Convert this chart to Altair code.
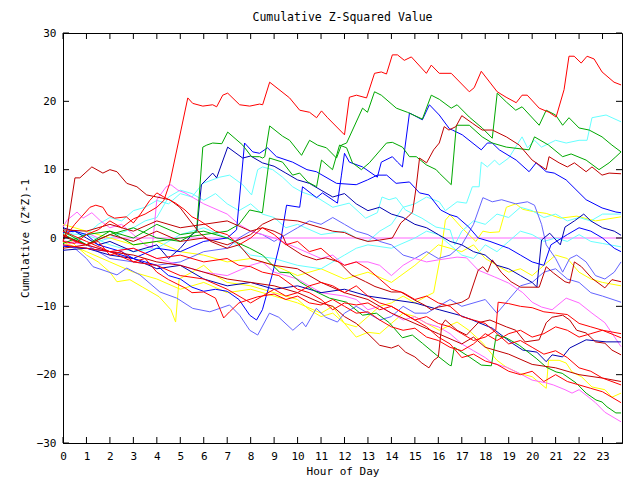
import altair as alt
import pandas as pd

FONT = "DejaVu Sans Mono"
X_MAX = 23.83

hour_ticks = list(range(24))
value_ticks = [-30, -20, -10, 0, 10, 20, 30]

palette = {
    "red": "#ff0000", "dred": "#c00000", "green": "#00a800", "blue": "#0000ff",
    "navy": "#0000b0", "lblue": "#6464ff", "cyan": "#66ffff", "yellow": "#ffff00",
    "magenta": "#ff66ff",
}

# (hour, value) readings for each sensor trace
r1 = [(0,-0.5),(0.5,-0.8),(1,0.5),(1.5,1.2),(2,2.5),(2.5,1.5),(3,2.8),(3.5,3.5),(4,4.5),(4.3,5.5),(4.55,8),
      (5.32,20.5),(5.53,19.7),(5.96,19.3),(6.38,19.5),(6.55,19.2),(6.81,20.9),(7.02,21.2),(7.53,19.5),
      (7.96,19.3),(8.38,19.6),(8.51,19.5),(8.81,22.8),(9.66,20.5),(10.09,18.7),(10.51,18.4),(10.81,17.6),
      (11.02,18.6),(11.28,17.6),(12,15.1),(12.21,20.6),(12.51,20.9),(12.94,20.5),(13.28,24.1),(13.57,24.3),
      (13.79,24),(14.04,26.8),(14.26,26.8),(14.55,26),(14.85,26.5),(15.49,24.1),(15.7,25.3),(16.04,24.1),
      (16.55,24.1),(17.32,21.4),(17.53,22),(17.83,24.4),(18.51,21.4),(18.89,20.6),(19.32,19.8),(19.57,20.9),
      (19.79,20.9),(20.3,19),(20.72,18.4),(21.02,17.7),(21.36,21.7),(21.57,26.6),(21.79,26.6),(22.09,25.6),
      (22.34,26.6),(22.64,26.2),(22.98,24.3),(23.49,22.8),(23.79,22.4)]
r2 = [(0,1),(1,-0.5),(2,-2),(3,-1.5),(4,-3),(5,-2.5),(6,-3.5),(7,-3),(7.5,-4),(8,-4.2),(8.5,-5),(9.2,-5.5),
      (10,-7.5),(10.5,-8),(11,-9),(11.5,-10.5),(12,-9.5),(12.5,-9.8),(13,-9.5),(13.5,-10.5),(14,-10),
      (14.5,-11),(15,-12),(15.5,-13),(16,-14.5),(16.5,-15.5),(17,-17.5),(17.5,-17),(18,-18),(18.5,-18.5),
      (19,-19.5),(19.5,-20),(20,-19.5),(20.5,-21),(21,-20),(21.5,-21),(22,-21.5),(22.5,-22),(23,-22.5),
      (23.79,-24.1)]
r3 = [(0,-1),(1,-1.5),(2,-2),(3,-3.5),(4,-4),(5,-5.5),(6,-6),(7,-7.5),(8,-9.5),(8.5,-8.5),(9,-7.5),
      (9.5,-8.5),(10,-8),(10.5,-7),(11,-6.5),(11.5,-7),(12,-8),(12.5,-7),(13,-8.5),(13.5,-9.5),(14,-10),
      (14.5,-11),(15,-12),(15.5,-11.5),(16,-12.5),(16.5,-13),(17,-14),(17.5,-15),(18,-14.5),(18.45,-13.5),
      (18.55,-9.4),(19,-9.6),(19.5,-10),(20,-10.2),(20.5,-10.8),(21,-11),(21.5,-11.2),(22,-12.5),
      (22.5,-13),(23,-13.5),(23.5,-14.2),(23.79,-14.6)]
r4 = [(0,0.5),(0.5,-0.5),(1,-1),(1.5,-0.5),(2,-2.5),(2.5,-2),(3,-3.5),(3.5,-3),(4,-5),(4.5,-6.1),(5.2,-7.3),
      (5.5,-8),(6,-7.9),(6.5,-8.8),(6.85,-11.7),(7.1,-10.8),(7.5,-9.5),(8.3,-8.6),(9,-8.2),(9.5,-9),
      (10,-8.5),(10.5,-9.5),(11,-9.8),(11.5,-9),(12,-10),(12.5,-11),(13,-10.8),(13.5,-12),(14,-13),
      (14.5,-13.5),(15,-13.2),(15.5,-14.5),(16,-15),(16.5,-16),(17,-16.5),(17.5,-15.5),(18,-14),
      (18.5,-15),(19,-14),(19.5,-13.5),(20,-14.5),(20.5,-14),(21,-13),(21.5,-13.5),(22,-14.5),
      (22.5,-14),(23,-13.5),(23.79,-14)]
r5 = [(0,-0.3),(0.5,2),(1.15,4.5),(1.4,4.8),(1.7,4.5),(1.9,3.4),(2.2,2.9),(2.7,3.1),(3,2.2),(3.3,3.5),
      (3.7,5.5),(4,6.6),(4.3,6),(4.8,5.1),(5.2,4.1),(5.5,3.1),(5.8,2.6),(6.5,1),(7,0.5),(7.5,-1),(8,0),
      (8.5,1.5),(9,0.5),(9.5,-1),(10,-0.5),(10.5,-2),(11,-1.5),(11.5,-3),(12,-4),(12.5,-3.5),(13,-4.5),
      (13.5,-6),(14,-7.5),(14.5,-8),(15,-9),(15.5,-8.5),(16,-9.5),(16.5,-10),(17,-11.5),(17.5,-12),
      (18,-12.5),(18.5,-14),(19,-15.5),(19.5,-15),(20,-16),(20.5,-17),(21,-16.5),(21.5,-17.5),(22,-19),
      (22.5,-19.5),(23,-20.5),(23.79,-21.5)]
dr1 = [(0,-0.5),(0.17,1.2),(0.51,8.8),(0.72,8.8),(0.94,9.5),(1.23,10.4),(1.7,9.5),(2,10),(2.3,9.7),
       (2.72,8),(3.15,7.5),(3.57,6.3),(4,6),(4.55,5.6),(4.98,4.5),(5.4,2.6),(5.83,0.7),(6.3,-0.5),
       (7,-1.5),(7.5,-1),(8,-3),(9,-4),(10,-4.5),(11,-6.5),(12,-8),(13,-9),(14,-11),(15,-12.5),(16,-14),
       (17,-15.5),(17.5,-14.5),(18,-16),(19,-17),(20,-18.5),(21,-19),(22,-20),(23,-20.5),(23.79,-21)]
dr2 = [(0,1.2),(1,1),(2,2),(3,1),(4,2.5),(5,1.5),(6,2),(7,2.5),(8,1),(8.5,1.5),(9,1),(9.36,0.4),(9.53,-1),
       (10.2,-2.5),(10.8,-3.2),(11.2,-2.9),(11.75,-3.5),(12.3,-5.4),(12.9,-6.4),(13.3,-7.1),(14,-7.9),
       (14.4,-7.9),(15,-9.1),(15.4,-9.8),(15.7,-10.5),(16,-10.1),(16.5,-9.8),(17,-9.4),(17.3,-8.8),
       (17.7,-4.7),(17.9,-4.2),(18.1,-5),(18.3,-3.2),(18.7,-5.1),(19.1,-6.4),(19.5,-7.2),(20.3,-7.2),
       (20.6,-4.2),(20.9,-5.1),(21.4,-6.4),(21.6,-6.6),(21.8,-3.5),(22.1,-4.2),(22.55,-5.9),(23.1,-7.3),
       (23.4,-6.1),(23.79,-6.4)]
dr3 = [(0,-1.5),(1,-1),(2,-2),(3,-2.5),(4,-3.5),(5,-4),(6,-5),(7,-6),(8,-6.5),(9,-7),(10,-8),(11,-9.5),
       (11.5,-10),(12,-11.5),(12.5,-12.5),(13,-14),(13.5,-15.7),(14,-16.1),(14.3,-15.7),(14.6,-16.7),
       (15,-17.4),(15.3,-18.3),(15.6,-19),(15.8,-17.9),(16,-17.4),(16.15,-12.7),(16.3,-12),(16.8,-13.5),
       (17.2,-14.2),(17.7,-12.4),(18.2,-12),(18.9,-13),(19.3,-13.5),(19.7,-15.2),(20.3,-14.9),
       (20.6,-12.4),(20.85,-11.6),(21.3,-11.3),(21.6,-12),(21.9,-13.5),(22.3,-13.9),(22.7,-15.2),
       (23.1,-15.4),(23.4,-16.4),(23.79,-17.1)]
dra = [(0,0.3),(1,-1),(2,0.5),(3,-0.5),(4,1),(5,-0.5),(6,0),(7,-1),(8,0.5),(8.5,2),(9,2.8),(10,2.5),
       (11,1.5),(11.5,1),(12,0.8),(12.5,0),(13,-0.5),(13.5,-0.3),(14.04,0),(14.4,2.2),(14.7,3.1),
       (14.9,3.8),(15.05,7.3),(15.2,11.7),(15.5,11),(15.8,12.9),(16.04,13.9),(16.25,16.3),(16.45,15.8),
       (16.75,16.3),(17,17.9),(17.45,16.8),(17.87,15.8),(18.3,15.8),(18.9,14.8),(19.45,13.6),(20,11.4),
       (20.6,10),(20.72,11.9),(21.15,11),(21.5,10.4),(21.8,11),(22.3,9.7),(22.55,10.4),(22.98,9.2),
       (23.28,9.5),(23.79,9.4)]
g1 = [(0,1),(1,-1),(2,0.5),(3,1.5),(4,0),(5,-0.5),(5.5,0.5),(5.7,1.2),(5.96,13.3),(6.13,13.6),
      (6.38,13.9),(6.77,13.8),(7.02,15.5),(7.66,13.6),(8.04,11.9),(8.38,11.9),(8.51,11.7),(8.6,11.9),
      (8.81,16.4),(9.36,14.9),(9.66,14.3),(10.17,12.1),(10.51,14.3),(10.85,13.6),(11.23,13.2),
      (11.66,11.7),(11.87,13.6),(12.09,13.9),(12.77,19),(12.98,18.4),(13.28,21.4),(13.57,20.9),
      (14.21,19),(14.68,18.4),(15.32,17.4),(15.7,20.9),(16.04,20.3),(16.55,19),(16.8,19.5),(17.32,17.7),
      (17.87,16.1),(18.3,14.6),(18.51,21.2),(18.9,19.9),(19.3,18.7),(19.57,19.2),(20.3,16.5),(20.6,18.7),
      (21,18),(21.3,16.5),(21.57,17.6),(22,16.1),(22.43,15.8),(22.98,14.8),(23.4,13.6),(23.79,12.6)]
g2 = [(0,-0.8),(1,0.5),(2,1),(3,-1),(4,-0.5),(5,0),(6,0.5),(7,1),(7.5,2),(7.96,4.1),(8.5,3.7),(8.8,11.7),
      (9.36,11.1),(9.79,9.2),(10.09,9.5),(10.43,8.2),(10.81,7.5),(11.02,11.4),(11.49,10),(11.79,13.6),
      (12.09,13.2),(12.34,11),(12.72,10),(13.06,11),(13.79,13.9),(14.04,14),(14.47,13.3),(14.77,11.9),
      (15.06,11.9),(15.49,10.7),(15.91,10),(16.04,9.5),(16.55,7.8),(16.77,16.5),(17.32,16.5),
      (17.87,14.8),(18.3,13.9),(18.9,13.3),(19.87,12.9),(20.1,14.8),(20.7,13.6),(21.3,11.9),(21.66,12.3),
      (22.3,11.4),(22.85,10),(23.28,11),(23.57,11.9),(23.79,12.6)]
g3 = [(0,0.5),(1,-1),(2,1),(3,0),(4,2),(5,0.5),(6,1),(7,0),(7.96,-1.5),(8.51,-2.5),(9.23,-5),(9.66,-5.1),
      (10.09,-6.4),(10.81,-7.9),(11.36,-8.8),(12.09,-9.4),(12.77,-11.3),(13.36,-11),(13.91,-12.4),
      (14.47,-14.6),(14.89,-14.2),(15.32,-15.4),(15.91,-17.1),(16.47,-18.6),(16.55,-18.7),(16.68,-16),
      (17.32,-17.4),(17.83,-18.6),(18.26,-18.7),(18.47,-14.2),(18.89,-14.6),(19.45,-15.7),(20.17,-17.6),
      (20.6,-18.9),(21.02,-19.6),(21.28,-19.8),(21.87,-21.2),(22.3,-22.7),(22.72,-23.7),(22.98,-24),
      (23.19,-24.7),(23.57,-25.6),(23.79,-25.6)]
b1 = [(0,-1.2),(1,-1.5),(2,-2),(3,-3),(4,-1.5),(5,-2),(6,-0.5),(7,0),(7.4,1.2),(7.74,13.9),(8.09,12.6),
      (8.38,12.4),(8.72,13.2),(9.1,11.9),(9.79,11.1),(10.4,10),(10.8,9.7),(11.66,8),(12.5,7.8),
      (12.98,8.5),(13.4,9.2),(13.8,9.2),(14.2,8),(14.77,8.2),(15.2,6.6),(15.6,6.3),(16.1,4.1),(16.5,3.4),
      (16.8,3.1),(17.3,1.6),(17.7,0),(18.2,-0.5),(19,-1.5),(19.5,-2.5),(20,-3.5),(20.5,-4),(20.8,-1),
      (21.5,0.5),(22,1.5),(22.5,1),(23,0),(23.5,-1.5),(23.79,-2)]
b2 = [(0,0.8),(0.5,1),(1,0.5),(1.5,-1),(2,-1.5),(2.5,-2),(3,-3),(3.5,-3.5),(4,-4),(4.5,-5.5),(5,-6),
      (5.5,-7.2),(6,-7.8),(6.5,-7.5),(7,-7.8),(7.5,-9),(7.96,-11.3),(8.25,-12),(8.5,-10.5),(8.94,-5.1),
      (9.3,0),(9.53,4.8),(10.09,4.5),(10.21,7.5),(10.81,5.9),(11.06,6.6),(11.7,5.1),(11.87,9.2),(12,12.4),
      (12.21,11.1),(12.77,10.4),(13.4,8.9),(13.57,11.1),(14.04,11.9),(14.26,11.1),(14.47,10.4),
      (14.77,18.3),(15.32,17.3),(15.62,19.5),(16.04,18),(16.47,16),(16.6,15.8),(17.02,15.1),(17.83,12.9),
      (18.09,13.9),(18.3,13.9),(18.6,12.9),(19.32,11.4),(19.87,9.7),(20.17,11),(20.6,9.7),(20.94,9.5),
      (21.45,8.5),(22.3,5.6),(22.98,4.4),(23.57,3.8),(23.79,3.7)]
b3 = [(0,1.5),(0.5,1),(1,0),(1.5,-1),(2,-0.5),(3,-2),(4,-1),(4.5,-3),(5,-1.5),(5.5,0.5),(5.7,1),(5.9,7.8),
      (6.38,9.5),(6.55,8.8),(7.02,13.3),(7.66,11.7),(8,12),(8.5,11),(9,10.5),(9.5,9.5),(10,8.5),(10.5,8),
      (11,7),(11.5,6),(12,6.5),(12.5,5),(13,4),(13.5,4.5),(14,3.5),(14.5,3),(15,2),(15.5,1.5),(16,0.5),
      (16.5,-0.5),(17,-1),(17.5,-2),(18,-2.5),(18.5,-4),(19,-4.5),(19.5,-5.5),(20,-6.5),(20.2,-7.2),
      (20.4,-0.3),(20.75,0.7),(21.2,-1),(21.4,1.6),(21.8,2.5),(22.2,3.5),(22.5,2.5),(23,1.5),(23.5,1),
      (23.79,0.4)]
nb = [(0,-1.8),(1,-1.5),(2,-2.5),(3,-3),(4,-4.5),(5,-4),(6,-6),(7,-7),(8,-6.5),(9,-7.5),(10,-7),(11,-8),
      (12,-7.5),(13,-8.5),(14,-9),(15,-9.5),(16.04,-10.5),(16.9,-11.3),(17.45,-12),(18.3,-13.2),
      (19.15,-15.4),(19.6,-16.4),(20.2,-16.7),(20.6,-18.1),(20.85,-17.1),(21.3,-17.4),(21.6,-16.1),
      (22.3,-14.9),(23.15,-15.2),(23.79,-15.2)]
lb1 = [(0,-1),(0.5,-1.5),(1,-3),(1.28,-4.2),(2.3,-5.4),(2.72,-4.4),(3.28,-5.4),(4.13,-7.9),(4.85,-8.8),
       (5.53,-10.3),(6.26,-10.8),(7.1,-9.8),(7.53,-11.3),(7.96,-13.5),(8.3,-14.2),(8.8,-11),(9.2,-11.6),
       (9.8,-13.5),(10.2,-12.3),(10.35,-13),(10.8,-10.3),(11.2,-11.6),(11.7,-12.3),(12,-11),(12.5,-10),
       (13,-11),(13.5,-12),(14,-11.5),(14.5,-10),(15,-11),(15.5,-11),(16,-10),(16.5,-9),(17,-10),
       (18,-9),(18.5,-11),(19,-9),(19.5,-7),(20,-6.5),(20.5,-5),(21,-4.5),(21.5,-6),(22,-6.5),(22.5,-8),
       (23,-8.5),(23.79,-9.4)]
lb2 = [(0,0.2),(1,-1),(2,-3),(3,-3.5),(4,-4),(5,-3.5),(6,-2),(7,-1.5),(7.5,0),(8,1),(8.5,0.5),(9,-0.5),
       (10,1.5),(10.5,2.5),(11,2),(11.5,3),(12,2),(12.5,1),(13,0.5),(13.5,-0.5),(14,-1),(14.5,-2.5),
       (15,-3),(15.5,-2),(16,-3),(16.5,-2.5),(17,-1),(17.5,2),(17.9,5.9),(18.3,5.3),(18.7,5.6),(19.3,5),
       (19.8,5.3),(20.1,4.8),(20.4,2),(20.6,-1),(21,-3),(21.3,-5),(21.6,-3),(21.9,-2.5),(22.3,-3.5),
       (22.7,-5.5),(23.1,-6),(23.5,-5),(23.79,-3.5)]
c1 = [(0,1.3),(1,-1),(2,0),(3,1.5),(3.5,2.5),(4,3),(4.5,6),(5,7),(5.5,6.5),(6,5.5),(6.5,6.5),(7,5),
      (7.5,4),(8,5),(8.5,3.5),(9,3),(9.5,1.5),(10,2),(11,0.5),(12,1),(12.5,0),(13,-0.5),(13.5,1),(14,2),
      (14.5,4.5),(15,5),(15.5,6),(16.04,5.3),(16.3,4),(16.8,5.3),(17.2,5.1),(17.45,7.5),(17.74,7.5),
      (17.83,11.1),(18.09,10.4),(18.4,11.4),(18.6,10.7),(19,11.7),(19.57,14.8),(19.8,13.2),(20.1,14.3),
      (20.4,13.3),(21,14.3),(21.45,13.9),(22,14.3),(22.34,14.3),(22.55,17.6),(23.15,18),(23.79,17)]
c2 = [(0,-0.3),(0.5,1),(1,0.5),(1.5,2),(2,3),(2.5,2.5),(3,4),(3.5,4.5),(4,5.5),(4.5,5),(5,6.5),(5.5,6),
      (5.96,8),(6.68,8.9),(7.1,9.2),(7.66,7.8),(8.04,6.3),(8.3,10),(8.51,10.4),(8.94,10),(9.36,8.9),
      (9.79,7.5),(10.2,6.7),(10.8,6),(11.5,4.5),(12.2,5.1),(12.9,2.9),(13.4,3.7),(13.6,6),(13.9,5.6),
      (14.2,5.9),(14.6,4.1),(15.3,2.9),(15.9,1.6),(16.5,1.2),(16.7,-1),(17,1),(17.5,2.5),(18,2),
      (18.5,3.5),(19,3),(19.5,4.5),(20,4),(20.5,3),(21,3.5),(21.5,2.5),(22,3),(22.5,2.5),(23,3.5),
      (23.79,3.5)]
c3 = [(0,0.6),(1,0.5),(2,-1),(3,-2),(4,-1.5),(5,0.5),(6,1.5),(7,0),(8,-2.5),(9,-3),(10,-4),(11,-4.5),
      (12,-2.5),(12.5,-1.5),(13,-1),(14,-1.5),(15,0),(15.5,1),(16,0.5),(16.5,-1),(17,-2.5),(17.5,-3),
      (18,-1),(18.5,-2),(19,-0.5),(19.5,1),(20,0.5),(20.5,-0.5),(21,0),(21.5,-0.5),(22,0.5),(22.5,-0.5),
      (23,-0.8),(23.79,-1.3)]
y2 = [(0,-0.6),(1,-2),(2,-3.5),(3,-5),(4,-6),(5,-7.5),(6,-6.5),(7,-8),(8,-7.5),(9,-8.5),(10,-9.5),(11,-11),
      (11.5,-10),(12,-12.5),(12.5,-14.5),(13,-13.8),(13.5,-14),(14,-12.5),(14.5,-11),(15,-11.5),
      (15.5,-12.5),(16.04,-13.5),(16.8,-12.3),(17.3,-13.5),(17.9,-15.4),(18.5,-17.9),(18.9,-18.9),
      (19.45,-19.8),(20,-20.3),(20.6,-22),(20.7,-17.9),(21.15,-17.9),(21.45,-18.3),(21.7,-19.6),
      (22.1,-20.3),(22.55,-21.8),(23.1,-22.2),(23.4,-23.3),(23.79,-22.7)]
y3 = [(0,2),(0.5,1.5),(1,1),(2,0),(3,-1),(4,-0.5),(5,-2),(6,-2.5),(7,-3.5),(8,-3),(9,-4),(10,-5.5),
      (11,-4.5),(12,-6),(13,-5),(14,-6.5),(15,-4),(16,-1),(17,-2),(17.5,-1),(18,-3),(18.5,-4),(19,-5),
      (19.5,-4.5),(20,-5.5),(20.5,-4),(21,-2.5),(21.5,-3),(22,-5),(22.5,-6),(23,-6.5),(23.79,-7)]
y4 = [(0,1),(0.5,-1),(1,-2.5),(1.5,-3.5),(2,-5),(2.3,-6.4),(2.85,-6.1),(3.4,-7.2),(4.1,-8.6),
      (4.6,-10.5),(4.8,-12.3),(4.95,-6),(5.5,-5),(6,-4),(6.5,-5.5),(7,-6.5),(8,-7),(9,-8),(10,-9),
      (10.5,-10.5),(11,-11.5),(11.5,-11),(12,-12.5),(12.5,-13),(13,-11.5),(13.5,-10),(14,-9.5),
      (14.5,-8.5),(15,-9.5),(15.5,-8.5),(15.8,-8),(16.1,-2.5),(16.3,2.6),(16.5,3.4),(17,1.5),
      (17.6,-0.5),(17.9,1),(18.2,0.8),(18.6,0.9),(18.9,4.5),(19.3,5),(19.6,4.2),(20,3.9),(20.6,3.6),
      (21.2,2.9),(21.9,3.2),(22.7,2.5),(23.79,3.1)]
m0 = [(0,-1.2),(0.5,-0.5),(1,0.8),(1.5,0),(23.79,0)]
m1 = [(0,-0.4),(1,-1),(2,-2),(3,-1.5),(4,-3),(5,-4),(6,-5),(7,-5.5),(8,-4),(8.5,-3.5),(9,-5),(10,-6),
      (11,-8),(12,-8.5),(12.5,-9),(13,-10.5),(13.5,-10),(14,-11),(14.5,-12),(15,-11.5),(15.5,-12.5),
      (16,-13),(16.5,-14),(17,-15.5),(17.5,-16.5),(18,-17.5),(18.3,-18.3),(18.9,-18.9),(19.45,-19.8),
      (20,-20.8),(20.6,-21.2),(20.9,-21.5),(21.4,-22.2),(21.7,-22.7),(22,-22.2),(22.3,-23),(22.7,-24.1),
      (23.1,-25.5),(23.79,-26.9)]
m2 = [(0,1.6),(0.17,2.6),(0.6,3.8),(0.85,2.9),(1.23,3.7),(1.6,2.5),(2,1.5),(2.5,2),(3,0.5),(3.5,-1),
      (3.8,-1.5),(3.9,2),(4,5.6),(4.4,7.5),(4.6,7.8),(4.9,7),(5.2,6.6),(6,5),(7,3.5),(7.5,2),(8,1),(9,0),
      (10,-1.5),(11,-3),(11.5,-2.5),(12,-4),(12.5,-3.5),(13,-3.5),(13.5,-4),(14,-5.5),(14.5,-4),(15,-3),
      (15.5,-3.5),(16,-3.2),(16.8,-2.8),(17.2,-2.9),(17.7,-4.7),(18.4,-5.7),(19,-6.6),(19.6,-8),
      (20,-9.4),(20.4,-10.1),(20.85,-10.5),(21.45,-8.8),(22,-9.5),(22.55,-11),(23.1,-12.4),(23.79,-15.9)]

series = [
    ("m0", "magenta", m0), ("y3", "yellow", y3), ("y2", "yellow", y2), ("y4", "yellow", y4),
    ("c3", "cyan", c3), ("c2", "cyan", c2), ("c1", "cyan", c1), ("lb1", "lblue", lb1),
    ("lb2", "lblue", lb2), ("m1", "magenta", m1), ("m2", "magenta", m2), ("nb", "navy", nb),
    ("b3", "navy", b3), ("b1", "blue", b1), ("b2", "blue", b2), ("g3", "green", g3),
    ("g2", "green", g2), ("g1", "green", g1), ("dr3", "dred", dr3), ("dr2", "dred", dr2),
    ("dr1", "dred", dr1), ("dra", "dred", dra), ("r5", "red", r5), ("r4", "red", r4),
    ("r3", "red", r3), ("r2", "red", r2), ("r1", "red", r1),
]

rows = []
for k, (name, col, pts) in enumerate(series):
    for i, (h, v) in enumerate(pts):
        rows.append({"series": name, "color": palette[col], "hour": h, "value": v,
                     "order": i, "layer": k})
df = pd.DataFrame(rows)

x_axis = alt.Axis(values=hour_ticks, tickSize=0, labelPadding=7, grid=False, labelAngle=0,
                  labelFlush=False, labelOverlap=False, titlePadding=4)
y_axis = alt.Axis(values=value_ticks, tickSize=0, labelPadding=7, grid=False, titlePadding=6)


def xenc():
    return alt.X("hour:Q", title="Hour of Day", axis=x_axis,
                 scale=alt.Scale(domain=[0, X_MAX], nice=False, zero=False))


def yenc():
    return alt.Y("value:Q", title="Cumulative (Z*Z)-1", axis=y_axis,
                 scale=alt.Scale(domain=[-30, 30], nice=False, zero=False))


lines = alt.Chart(df).mark_line(strokeWidth=1, interpolate="linear").encode(
    x=xenc(), y=yenc(),
    color=alt.Color("color:N", scale=None),
    detail="series:N",
    order="order:Q",
)

W, H = 559, 410
xt = pd.DataFrame({"hour": hour_ticks})
yt = pd.DataFrame({"value": value_ticks})
bottom_ticks = alt.Chart(xt).mark_rule(color="black", strokeWidth=1).encode(
    x=xenc(), y=alt.value(H), y2=alt.value(H - 6))
top_ticks = alt.Chart(xt).mark_rule(color="black", strokeWidth=1).encode(
    x=xenc(), y=alt.value(0), y2=alt.value(6))
left_ticks = alt.Chart(yt).mark_rule(color="black", strokeWidth=1).encode(
    y=yenc(), x=alt.value(0), x2=alt.value(6))
right_ticks = alt.Chart(yt).mark_rule(color="black", strokeWidth=1).encode(
    y=yenc(), x=alt.value(W), x2=alt.value(W - 6))

chart = alt.layer(lines, bottom_ticks, top_ticks, left_ticks, right_ticks).properties(
    width=W, height=H,
    padding={"left": 55, "top": 25, "right": 10, "bottom": 37},
    autosize=alt.AutoSizeParams(type="none"),
    title=alt.TitleParams("Cumulative Z-Squared Value", font=FONT, fontSize=11.5,
                          fontWeight="normal", color="black", anchor="middle",
                          baseline="bottom", offset=-7),
).configure_axis(
    labelFont=FONT, labelFontSize=11, labelColor="black", titleFont=FONT, titleFontSize=11,
    titleFontWeight="normal", titleColor="black", domainColor="black", domainWidth=1,
).configure_view(stroke="black", strokeWidth=1)

chart.save("out.html", embed_options={"renderer": "svg", "actions": False})
